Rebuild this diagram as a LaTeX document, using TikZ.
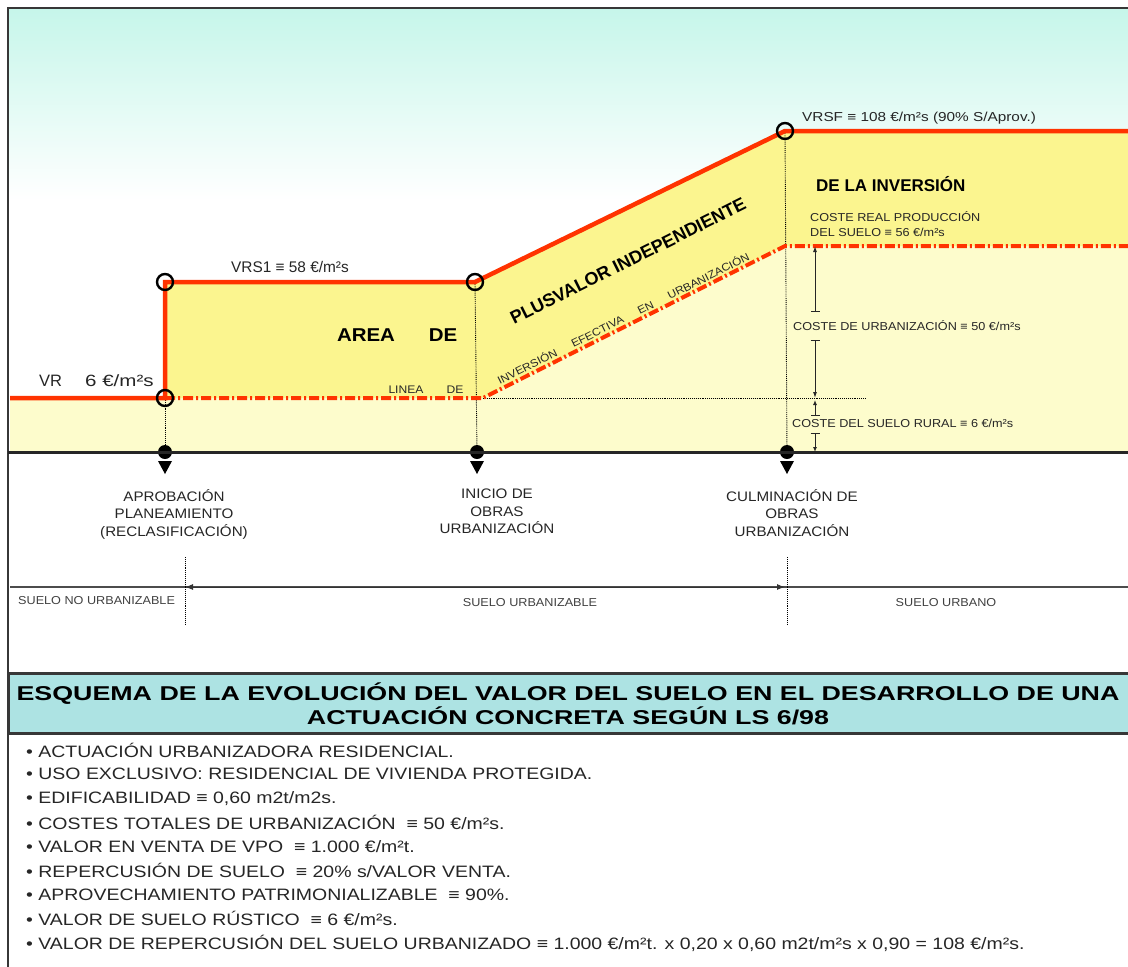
\documentclass[tikz,border=0pt]{standalone}
\usepackage{fontspec}
\setmainfont{Liberation Sans}
\newfontfamily\wideA[FakeStretch=1.1]{Liberation Sans}
\newfontfamily\wideB[FakeStretch=1.18]{Liberation Sans}
\newfontfamily\wideC[FakeStretch=1.26]{Liberation Sans}
\newfontfamily\titlefont[FakeStretch=1.34]{Liberation Sans}
\usetikzlibrary{arrows.meta,positioning}
\definecolor{redline}{RGB}{255,51,0}
\definecolor{paleyellow}{RGB}{253,252,204}
\definecolor{darkyellow}{RGB}{251,245,143}
\definecolor{skycyan}{RGB}{198,246,234}
\definecolor{titleteal}{RGB}{173,227,227}
\definecolor{framegray}{RGB}{55,55,55}

\begin{document}
\begin{tikzpicture}[x=1pt,y=-1pt,
  valueline/.style={redline,line width=4.5pt,line join=miter},
  costline/.style={redline,line width=4pt,dash pattern=on 10pt off 3pt on 2pt off 3pt},
  guide/.style={black,densely dotted,line width=0.9pt},
  knot/.style={circle,draw=black,line width=2.4pt,minimum size=16pt,inner sep=0pt},
  event/.style={circle,fill=black,minimum size=14pt,inner sep=0pt},
  dim/.style={black!85,line width=1pt},
  lab/.style={inner sep=0pt,text=black!85,font=\wideB\fontsize{13}{15}\selectfont},
  tiny/.style={inner sep=0pt,text=black!85,font=\wideA\fontsize{11.5}{15}\selectfont},
  big/.style={inner sep=0pt,text=black,font=\fontsize{18}{20}\selectfont\bfseries},
  stage/.style={inner sep=0pt,align=center,anchor=north,text=black!85,font=\wideA\fontsize{13.8}{17.5}\selectfont},
  soil/.style={inner sep=0pt,text=black!75,font=\wideA\fontsize{11.5}{14}\selectfont},
  item/.style={inner sep=0pt,anchor=west,text=black!85,font=\wideB\fontsize{16.5}{18}\selectfont}]
\useasboundingbox (0,0) rectangle (1128,967);
\fill[white] (0,0) rectangle (1128,967);
\shade[top color=skycyan,bottom color=white] (8,8) rectangle (1128,200);

% chart points
\coordinate (vr0) at (10,398);
\coordinate (a) at (165,398);
\coordinate (b) at (165,282);
\coordinate (c) at (475,282);
\coordinate (d) at (785,131);
\coordinate (e) at (1128,131);
\coordinate (f) at (483,398);
\coordinate (g) at (785,246);
\coordinate (h) at (1128,246);
\coordinate (dimx) at (815,0);

% yellow areas
\fill[paleyellow] (10,398) rectangle (1128,452);
\fill[paleyellow] (a) -- (f) -- (g) -- (h) -- (1128,398) -- cycle;
\fill[darkyellow] (b) -- (c) -- (d) -- (e) -- (h) -- (g) -- (f) -- (a) -- cycle;

% events on the time axis
\node[event] (ev1) at (165,452) {};
\node[event] (ev2) at (477,452) {};
\node[event] (ev3) at (787,452) {};
\foreach \ev in {ev1,ev2,ev3}
  \fill (\ev.center) ++(-7,9) -- ++(14,0) -- ++(-7,13) -- cycle;

\draw[guide] (a) -- (ev1);
\draw[guide] (c) -- (ev2);
\draw[guide] (d) -- (ev3);
\draw[guide] (f) -- (866,398);

\draw[costline] (a) -- (f) -- (g) -- (h);
\draw[valueline] (vr0) -- (a) -- (b) -- (c) -- (d) -- (e);

\node[knot] (k1) at (a) {};
\node[knot] (k2) at (b) {};
\node[knot] (k3) at (c) {};
\node[knot] (k4) at (d) {};

% frame
\draw[framegray,line width=1.5pt] (1128,8) -- (8,8) -- (8,967);
\draw[black!85,line width=3pt] (8,452) -- (1128,452);

% labels of the chart
\node[lab,anchor=west] (vrsf) at (802,118) {VRSF ≡ 108 €/m²s (90\% S/Aprov.)};
\node[lab,anchor=west,font=\fontsize{16.5}{18}\selectfont] (vr) at (39,381) {VR};
\node[lab,anchor=west,font=\wideC\fontsize{16.3}{18}\selectfont] (vrval) at (85,381) {6 €/m²s};
\node[lab,font=\fontsize{15.4}{17}\selectfont] (vrs1) at (290,267) {VRS1 ≡ 58 €/m²s};
\node[big,font=\wideA\fontsize{18.6}{20}\selectfont\bfseries] (area) at (366,335) {AREA};
\node[big,font=\wideA\fontsize{18.6}{20}\selectfont\bfseries] (de1) at (443,335) {DE};
\node[tiny,font=\wideA\fontsize{11}{12}\selectfont] (linea) at (406,390) {LINEA};
\node[tiny,font=\wideA\fontsize{11}{12}\selectfont] (de2) at (455,390) {DE};
\node[big,rotate=26.5] (plus) at (628,261) {PLUSVALOR INDEPENDIENTE};
\node[tiny,rotate=26.5,font=\wideA\fontsize{10.8}{12}\selectfont] (inv) at (623,318)
  {INVERSIÓN\hspace{17pt}EFECTIVA\hspace{17pt}EN\hspace{17pt}URBANIZACIÓN};
\node[big,font=\fontsize{17}{19}\selectfont\bfseries,anchor=west] (dela) at (816,184) {DE LA INVERSIÓN};
\node[tiny,align=left,anchor=north west] (coste) at (810,211) {COSTE REAL PRODUCCIÓN\\DEL SUELO ≡ 56 €/m²s};
\node[tiny,anchor=west] (urb) at (793,326) {COSTE DE URBANIZACIÓN ≡ 50 €/m²s};
\node[tiny,anchor=west] (rural) at (792,423) {COSTE DEL SUELO RURAL ≡ 6 €/m²s};

% dimension lines
\draw[dim,{Latex[length=6pt,width=4pt]}-{Bar[width=9pt]}] (g -| dimx) -- ([yshift=9pt]urb.north -| dimx);
\draw[dim,{Bar[width=9pt]}-{Latex[length=6pt,width=4pt]}] ([yshift=-9pt]urb.south -| dimx) -- (f -| dimx);
\draw[dim,{Latex[length=5pt,width=4pt]}-{Bar[width=9pt]}] ([yshift=-2pt]f -| dimx) -- ([yshift=3pt]rural.north -| dimx);
\draw[dim,{Bar[width=9pt]}-{Latex[length=5pt,width=4pt]}] ([yshift=-6pt]rural.south -| dimx) -- (ev3 -| dimx);

% stages
\node[stage] (st1) at (174,489) {APROBACIÓN\\PLANEAMIENTO\\(RECLASIFICACIÓN)};
\node[stage] (st2) at (497,489) {INICIO DE\\OBRAS\\URBANIZACIÓN};
\node[stage] (st3) at (792,489) {CULMINACIÓN DE\\OBRAS\\URBANIZACIÓN};

% soil classes
\coordinate (s0) at (10,587);
\coordinate (s1) at (185,587);
\coordinate (s2) at (785,587);
\coordinate (s3) at (1128,587);
\draw[black!70,line width=2pt] (s0) -- (s3);
\draw[black!80,line width=1pt,{Latex[length=8pt,width=6pt]}-{Latex[length=8pt,width=6pt]}] (s1) -- (s2);
\draw[guide] (185,557) -- (185,625);
\draw[guide] (787,557) -- (787,625);
\node[soil,anchor=west] (noub) at (18,601) {SUELO NO URBANIZABLE};
\node[soil] (ub) at (530,603) {SUELO URBANIZABLE};
\node[soil] (urbano) at (946,603) {SUELO URBANO};

% title
\filldraw[fill=titleteal,draw=framegray,line width=3pt] (8,673) rectangle (1134,733);
\node[inner sep=0pt,align=center,font=\titlefont\fontsize{20}{24}\selectfont\bfseries] (title) at (568,704)
  {ESQUEMA DE LA EVOLUCIÓN DEL VALOR DEL SUELO EN EL DESARROLLO DE UNA\\ACTUACIÓN CONCRETA SEGÚN LS 6/98};

% data
\foreach \txt [count=\i] in {{ACTUACIÓN URBANIZADORA RESIDENCIAL.},
  {USO EXCLUSIVO: RESIDENCIAL DE VIVIENDA PROTEGIDA.},
  {EDIFICABILIDAD ≡ 0,60 m2t/m2s.},
  {COSTES TOTALES DE URBANIZACIÓN \ ≡ 50 €/m²s.},
  {VALOR EN VENTA DE VPO \ ≡ 1.000 €/m²t.},
  {REPERCUSIÓN DE SUELO \ ≡ 20\% s/VALOR VENTA.},
  {APROVECHAMIENTO PATRIMONIALIZABLE \ ≡ 90\%.},
  {VALOR DE SUELO RÚSTICO \ ≡ 6 €/m²s.},
  {VALOR DE REPERCUSIÓN DEL SUELO URBANIZADO ≡ 1.000 €/m²t. x 0,20 x 0,60 m2t/m²s x 0,90 = 108 €/m²s.}}
  \node[item] (it\i) at (26,726+24.1*\i) {\textbullet\ \txt};
\end{tikzpicture}
\end{document}
